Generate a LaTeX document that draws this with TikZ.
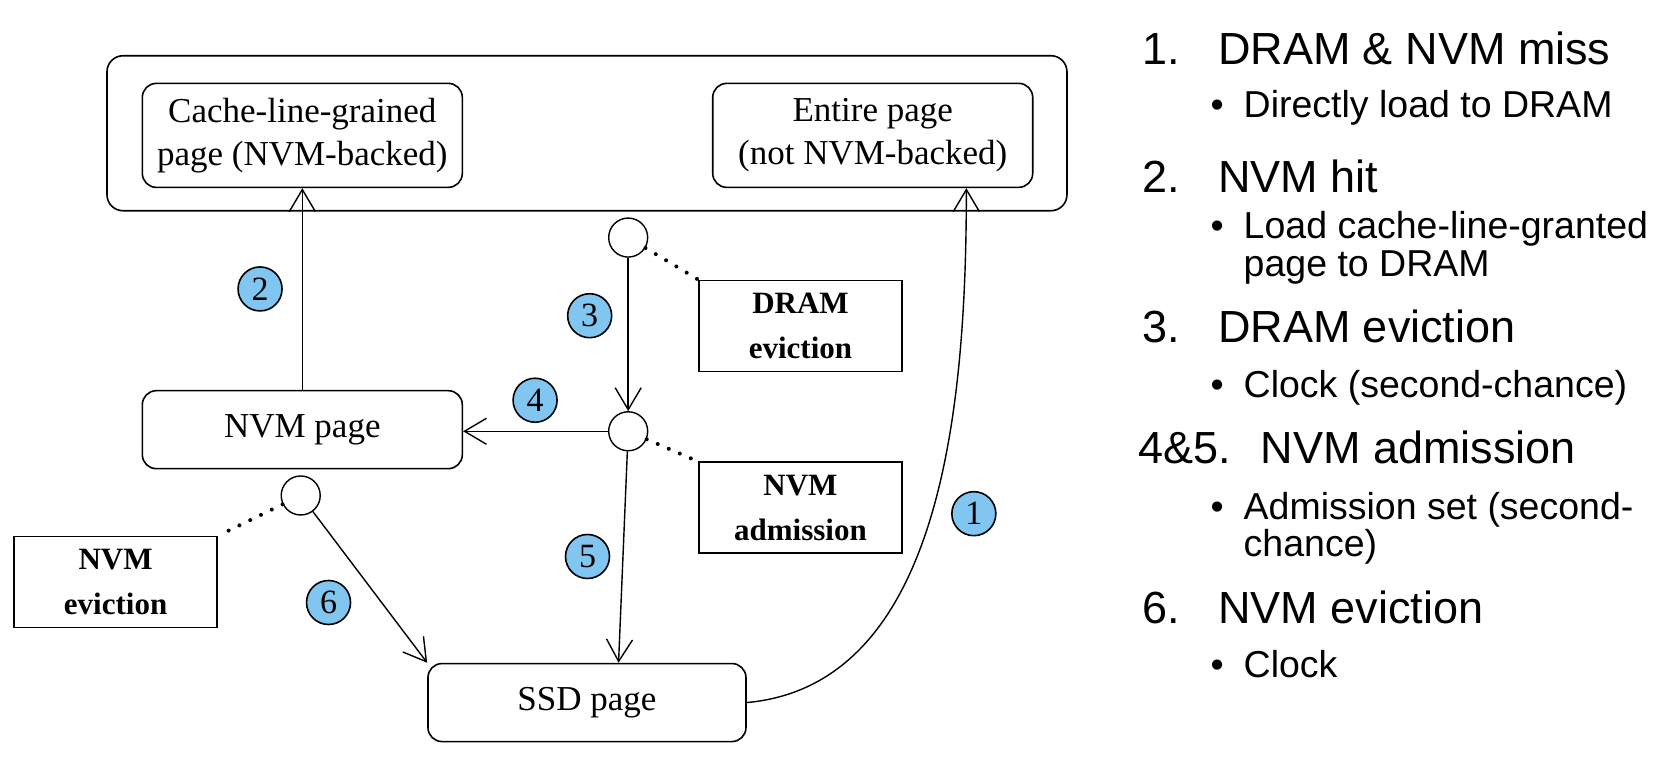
\documentclass[tikz,border=0pt]{standalone}
\usepackage{fontspec}
\newfontfamily\sansf{Liberation Sans}
\newfontfamily\seriff{Liberation Serif}
\usetikzlibrary{arrows.meta,shapes.geometric,calc}
\definecolor{lblue}{RGB}{128,198,240}
\begin{document}
\begin{tikzpicture}[x=1.0702pt,y=-1.0702pt,
  lw/.style={line width=1.4pt},
  rbox/.style={draw,line width=1.6pt,rounded corners=14pt,align=center,font=\seriff\fontsize{35}{43}\selectfont,inner sep=0pt},
  pbox/.style={draw,line width=1.6pt,align=center,font=\seriff\bfseries\fontsize{31}{45}\selectfont,minimum width=203pt,minimum height=91pt,inner sep=0pt},
  dec/.style={draw,lw,circle,minimum size=39pt,inner sep=0pt},
  num/.style={draw,line width=1.6pt,circle,fill=lblue,minimum size=44pt,inner sep=0pt,font=\seriff\fontsize{34}{34}\selectfont},
  arr/.style={lw,-{Straight Barb[length=22pt,width=26pt,line width=1.4pt]}},
  dots/.style={line width=4pt,dash pattern=on 0pt off 12pt,line cap=round},
  head/.style={anchor=base west,inner sep=0pt,font=\sansf\fontsize{45}{54}\selectfont},
  bul/.style={anchor=base west,inner sep=0pt,font=\sansf\fontsize{37.5}{45}\selectfont}]
\useasboundingbox (0,0) rectangle (1568,714);

% DRAM outer box
\node[draw,line width=1.6pt,rounded corners=16pt,minimum width=960pt,minimum height=155pt] (dram) at (548.5,124.5) {};
\node[rbox,minimum width=320pt,minimum height=104pt] (cache) at (282.5,126.5) {Cache-line-grained\\page (NVM-backed)};
\node[rbox,minimum width=320pt,minimum height=104pt] (entire) at (815.5,126.5) {Entire page\\(not NVM-backed)};

\node[rbox,minimum width=320pt,minimum height=78pt] (nvm) at (282.5,401.5) {NVM page};
\node[rbox,minimum width=318pt,minimum height=78pt] (ssd) at (548.5,656.5) {SSD page};

% decision circles
\node[dec] (c1) at (587,222) {};
\node[dec] (c2) at (587,403) {};
\node[dec] (c3) at (281,463) {};

% policy boxes
\node[pbox] (de) at (748,304.5) {DRAM\\eviction};
\node[pbox] (na) at (748,474.5) {NVM\\admission};
\node[pbox] (ne) at (108,544) {NVM\\eviction};

% dotted links
\draw[dots] (c1) -- (de.north west);
\draw[dots] (c2) -- (na.north west);
\draw[dots] (c3) -- (ne.north east);

% arrows
\coordinate (s5) at ($(ssd.north)+(29.5,0)$);
\coordinate (e1) at ($(entire.south)+(87.5,0)$);
\draw[arr] (nvm.north) -- (cache.south);
\draw[arr] (c1) -- (c2);
\draw[arr] (c2) -- (c2 -| nvm.east);
\draw[arr] (c2) -- (s5);
\draw[arr] (c3) -- (ssd.north west);
\draw[arr] (ssd.east) .. controls (880,640) and (903,380) .. (e1);

% step numbers
\node[num] (n1) at (910,480) {1};
\node[num] (n2) at (243,270) {2};
\node[num] (n3) at (551,295) {3};
\node[num] (n4) at (500,374) {4};
\node[num] (n5) at (549,520) {5};
\node[num] (n6) at (307,563) {6};

% legend
\node[head] (h1n) at (1067,60) {1.};
\node[head] (h1) at (1138,60) {DRAM \& NVM miss};
\node[bul] (b1d) at (1131,110) {•};
\node[bul] (b1) at (1162,110) {Directly load to DRAM};

\node[head] (h2n) at (1067,180) {2.};
\node[head] (h2) at (1138,180) {NVM hit};
\node[bul] (b2d) at (1131,223) {•};
\node[bul] (b2) at (1162,223) {Load cache-line-granted};
\node[bul] (b2b) at (1162,258) {page to DRAM};

\node[head] (h3n) at (1067,320) {3.};
\node[head] (h3) at (1138,320) {DRAM eviction};
\node[bul] (b3d) at (1131,371) {•};
\node[bul] (b3) at (1162,371) {Clock (second-chance)};

\node[head] (h4n) at (1064,433) {4\&5.};
\node[head] (h4) at (1178,433) {NVM admission};
\node[bul] (b4d) at (1131,485) {•};
\node[bul] (b4) at (1162,485) {Admission set (second-};
\node[bul] (b4b) at (1162,520) {chance)};

\node[head] (h6n) at (1067,583) {6.};
\node[head] (h6) at (1138,583) {NVM eviction};
\node[bul] (b6d) at (1131,633) {•};
\node[bul] (b6) at (1162,633) {Clock};
\end{tikzpicture}
\end{document}
